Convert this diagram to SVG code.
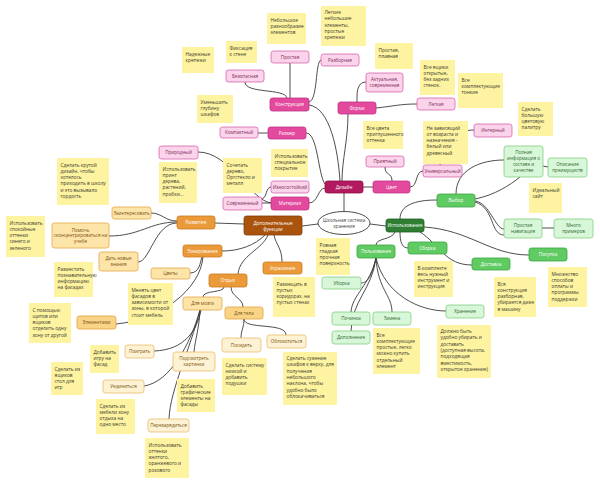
<svg xmlns="http://www.w3.org/2000/svg" width="600" height="486" viewBox="0 0 600 486">
<style>
text{font-family:"Open Sans","Noto Sans","DejaVu Sans",sans-serif;font-size:4.6px}
.t{text-anchor:middle}
#connectors path{fill:none;stroke:#3a3a3a;stroke-width:0.9}
.n rect{stroke-width:0.8}
.dp rect{fill:#b2195e;stroke:#8c0f48}
.mp rect{fill:#e3499d;stroke:#c03386}
.lp rect{fill:#fbd3ea;stroke:#d565a8}
.do rect{fill:#a9530c;stroke:#83400a}
.mo rect{fill:#eb9a3a;stroke:#cc7b20}
.lo rect{fill:#fde4a8;stroke:#e2a846}
.lo2 rect{fill:#f9d486;stroke:#e0a23c}
.co rect{fill:#fdf2d4;stroke:#e8bb6a}
.dg rect{fill:#2f7e34;stroke:#1f6124}
.mg rect{fill:#5fcb62;stroke:#3ea543}
.lg rect{fill:#d8f6d8;stroke:#80cf82}
.dp text,.mp text,.do text,.mo text,.dg text,.mg text{fill:#ffffff}
.lp text{fill:#7d2b5b}
.lo text,.lo2 text,.co text{fill:#7a5212}
.lg text{fill:#2e6b31}
.nt rect{fill:#fdf3a1}
.nt text{fill:#3c3a2c;font-size:4.8px}
</style>

<g id="connectors">
<path d="M344,193 L344,212"/>
<path d="M363,187 L373,187"/>
<path d="M385,167 C385,176 392,172 392,181"/>
<path d="M410,187 C418,187 415,171 423,171"/>
<path d="M440,166 C440,140 458,130 474,130"/>
<path d="M348,114 C348,140 342,160 342,181"/>
<path d="M366,82 C356,82 357,95 357,102"/>
<path d="M376,108 C395,106 400,104 417,104"/>
<path d="M309,105 C330,108 338,150 340,181"/>
<path d="M306,133 C318,133 318,175 325,184"/>
<path d="M309,203 C318,203 318,188 325,188"/>
<path d="M290,63 L290,98"/>
<path d="M245,82 C245,94 285,88 287,98"/>
<path d="M309,102 C318,100 315,62 321,60"/>
<path d="M258,133 L268,133"/>
<path d="M262,203 L271,203"/>
<path d="M262,199 C268,196 265,188 271,187"/>
<path d="M198,152 C230,152 250,200 271,203"/>
<path d="M302,226 L318,224"/>
<path d="M370,224 L386,226"/>
<path d="M215,223 L244,224"/>
<path d="M177,221 C165,221 162,213 151,213"/>
<path d="M177,222 C150,222 140,236 109,236"/>
<path d="M177,223 C155,223 150,262 138,262"/>
<path d="M222,251 C240,251 255,245 265,235"/>
<path d="M238,274 C240,255 262,250 268,235"/>
<path d="M282,262 C282,248 276,245 274,235"/>
<path d="M190,273 C200,273 200,262 202,257"/>
<path d="M116,324 C160,320 200,290 203,257"/>
<path d="M224,287 C224,293 203,290 203,297"/>
<path d="M231,287 C231,297 243,298 243,307"/>
<path d="M244,319 C244,328 241,330 241,338"/>
<path d="M244,319 C244,330 286,322 286,335"/>
<path d="M154,351 C185,350 197,330 201,310"/>
<path d="M200,310 C199,330 195,340 194,352"/>
<path d="M144,386 C170,382 190,345 200,310"/>
<path d="M169,419 C170,390 190,350 200,310"/>
<path d="M400,219 C400,205 415,200 437,200"/>
<path d="M456,194 C456,170 480,160 504,160"/>
<path d="M475,199 C495,195 510,185 520,177"/>
<path d="M543,166 L548,167"/>
<path d="M475,201 C490,203 495,229 504,229"/>
<path d="M475,202 C495,208 490,235 504,235"/>
<path d="M542,228 L554,228"/>
<path d="M424,227 C470,230 490,255 529,255"/>
<path d="M420,232 C440,245 445,265 472,265"/>
<path d="M400,232 C400,242 402,248 408,248"/>
<path d="M395,232 C392,240 376,238 376,245"/>
<path d="M376,258 C372,275 368,283 361,283"/>
<path d="M376,258 C370,285 352,295 351,312"/>
<path d="M376,258 C372,290 352,300 351,331"/>
<path d="M376,258 C378,290 392,295 392,312"/>
<path d="M376,258 C385,295 420,311 446,311"/>
</g>

<g id="root">
<ellipse cx="344" cy="223" rx="26" ry="11.5" fill="#ffffff" stroke="#3a3a3a" stroke-width="0.9"/>
<text class="t" x="344" y="221.6" fill="#444">Школьная система</text>
<text class="t" x="344" y="227.6" fill="#444">хранения</text>
</g>

<g id="dizain" class="n dp"><rect x="325" y="181" width="38" height="12" rx="2.5"/><text class="t" x="344" y="188.6">Дизайн</text></g>
<g id="cvet" class="n mp"><rect x="373" y="181" width="37" height="12" rx="2.5"/><text class="t" x="391.5" y="188.6">Цвет</text></g>
<g id="priyatny" class="n lp"><rect x="366" y="156" width="38" height="11" rx="2.5"/><text class="t" x="385" y="163.1">Приятный</text></g>
<g id="universal" class="n lp"><rect x="423" y="165" width="39" height="12" rx="2.5"/><text class="t" x="442.5" y="172.6">Универсальный</text></g>
<g id="interny" class="n lp"><rect x="474" y="124" width="38" height="13" rx="2.5"/><text class="t" x="493" y="132.1">Интерный</text></g>
<g id="forma" class="n mp"><rect x="338" y="102" width="38" height="12" rx="2.5"/><text class="t" x="357" y="109.6">Форма</text></g>
<g id="aktual" class="n lp"><rect x="366" y="73" width="37" height="19" rx="2.5"/><text class="t" x="384.5" y="81.1">Актуальная,</text><text class="t" x="384.5" y="87.1">современная</text></g>
<g id="legkaya" class="n lp"><rect x="417" y="98" width="38" height="12" rx="2.5"/><text class="t" x="436" y="105.6">Легкая</text></g>
<g id="konstrukciya" class="n mp"><rect x="270" y="98" width="39" height="13" rx="2.5"/><text class="t" x="289.5" y="106.1">Конструкция</text></g>
<g id="prostaya" class="n lp"><rect x="271" y="51" width="38" height="12" rx="2.5"/><text class="t" x="290" y="58.6">Простая</text></g>
<g id="bezopasnaya" class="n lp"><rect x="226" y="70" width="38" height="12" rx="2.5"/><text class="t" x="245" y="77.6">Безопасная</text></g>
<g id="razbornaya" class="n lp"><rect x="321" y="54" width="38" height="12" rx="2.5"/><text class="t" x="340" y="61.6">Разборная</text></g>
<g id="razmer" class="n mp"><rect x="268" y="127" width="38" height="12" rx="2.5"/><text class="t" x="287" y="134.6">Размер</text></g>
<g id="kompaktny" class="n lp"><rect x="220" y="127" width="38" height="11" rx="2.5"/><text class="t" x="239" y="134.1">Компактный</text></g>
<g id="iznosostoiky" class="n lp"><rect x="271" y="181" width="38" height="12" rx="2.5"/><text class="t" x="290" y="188.6">Износостойкий</text></g>
<g id="material" class="n mp"><rect x="271" y="197" width="38" height="13" rx="2.5"/><text class="t" x="290" y="205.1">Материал</text></g>
<g id="sovremenny" class="n lp"><rect x="223" y="197" width="39" height="13" rx="2.5"/><text class="t" x="242.5" y="205.1">Современный</text></g>
<g id="prirodny" class="n lp"><rect x="159" y="146" width="39" height="13" rx="2.5"/><text class="t" x="178.5" y="154.1">Природный</text></g>

<g id="dop" class="n do"><rect x="244" y="216" width="58" height="19" rx="2.5"/><text class="t" x="273" y="224.6">Дополнительные</text><text class="t" x="273" y="231">функции</text></g>
<g id="razvitie" class="n mo"><rect x="177" y="216" width="38" height="13" rx="2.5"/><text class="t" x="196" y="224.1">Развитие</text></g>
<g id="zainteresovat" class="n lo"><rect x="112" y="207" width="39" height="12" rx="2.5"/><text class="t" x="131.5" y="214.6">Заинтересовать</text></g>
<g id="pomoch" class="n lo"><rect x="52" y="223" width="57" height="25" rx="2.5"/><text class="t" x="80.5" y="231.6">Помочь</text><text class="t" x="80.5" y="237.4">сконцентрироваться на</text><text class="t" x="80.5" y="243.2">учебе</text></g>
<g id="dat" class="n lo"><rect x="99" y="252" width="39" height="19" rx="2.5"/><text class="t" x="118.5" y="259.9">Дать новые</text><text class="t" x="118.5" y="265.9">знания</text></g>
<g id="zonirovanie" class="n mo"><rect x="183" y="245" width="39" height="12" rx="2.5"/><text class="t" x="202.5" y="252.6">Зонирование</text></g>
<g id="cvety" class="n lo"><rect x="151" y="268" width="39" height="11" rx="2.5"/><text class="t" x="170.5" y="275.1">Цветы</text></g>
<g id="elementami" class="n lo2"><rect x="77" y="316" width="39" height="13" rx="2.5"/><text class="t" x="96.5" y="324.1">Элементами</text></g>
<g id="otdyh" class="n mo"><rect x="209" y="274" width="38" height="13" rx="2.5"/><text class="t" x="228" y="282.1">Отдых</text></g>
<g id="ukrashenie" class="n mo"><rect x="263" y="262" width="39" height="12" rx="2.5"/><text class="t" x="282.5" y="269.6">Украшение</text></g>
<g id="dlya-mozga" class="n lo"><rect x="183" y="297" width="39" height="13" rx="2.5"/><text class="t" x="202.5" y="305.1">Для мозга</text></g>
<g id="dlya-tela" class="n lo2"><rect x="225" y="307" width="38" height="12" rx="2.5"/><text class="t" x="244" y="314.6">Для тела</text></g>
<g id="poigrat" class="n co"><rect x="125" y="345" width="29" height="13" rx="2.5"/><text class="t" x="139.5" y="353.1">Поиграть</text></g>
<g id="podsmotret" class="n co"><rect x="173" y="352" width="42" height="19" rx="2.5"/><text class="t" x="194" y="360.1">Подсмотреть</text><text class="t" x="194" y="366.1">картинки</text></g>
<g id="uedinitsya" class="n co"><rect x="103" y="380" width="41" height="13" rx="2.5"/><text class="t" x="123.5" y="388.1">Уединиться</text></g>
<g id="perezaryaditsya" class="n co"><rect x="148" y="419" width="41" height="13" rx="2.5"/><text class="t" x="168.5" y="427.1">Перезарядиться</text></g>
<g id="posidet" class="n co"><rect x="222" y="338" width="39" height="14" rx="2.5"/><text class="t" x="241.5" y="346.6">Посидеть</text></g>
<g id="oblokotitsya" class="n co"><rect x="267" y="335" width="39" height="13" rx="2.5"/><text class="t" x="286.5" y="343.1">Облокотиться</text></g>

<g id="ispolzovanie" class="n dg"><rect x="386" y="219" width="38" height="13" rx="2.5"/><text class="t" x="405" y="227.1">Использование</text></g>
<g id="vybor" class="n mg"><rect x="437" y="194" width="38" height="13" rx="2.5"/><text class="t" x="456" y="202.1">Выбор</text></g>
<g id="polnaya" class="n lg"><rect x="504" y="146" width="39" height="31" rx="2.5"/><text class="t" x="523.5" y="154.4">Полная</text><text class="t" x="523.5" y="160.4">информация о</text><text class="t" x="523.5" y="166.4">составе и</text><text class="t" x="523.5" y="172.4">качестве</text></g>
<g id="opisanie" class="n lg"><rect x="548" y="158" width="39" height="19" rx="2.5"/><text class="t" x="567.5" y="166.1">Описание</text><text class="t" x="567.5" y="172.1">преимуществ</text></g>
<g id="prostaya-navigaciya" class="n lg"><rect x="504" y="219" width="38" height="19" rx="2.5"/><text class="t" x="523" y="227.1">Простая</text><text class="t" x="523" y="233.1">навигация</text></g>
<g id="mnogo" class="n lg"><rect x="554" y="219" width="39" height="19" rx="2.5"/><text class="t" x="573.5" y="227.1">Много</text><text class="t" x="573.5" y="233.1">примеров</text></g>
<g id="pokupka" class="n mg"><rect x="529" y="248" width="38" height="13" rx="2.5"/><text class="t" x="548" y="256.1">Покупка</text></g>
<g id="dostavka" class="n mg"><rect x="472" y="258" width="38" height="12" rx="2.5"/><text class="t" x="491" y="265.6">Доставка</text></g>
<g id="sborka" class="n mg"><rect x="408" y="242" width="39" height="12" rx="2.5"/><text class="t" x="427.5" y="249.6">Сборка</text></g>
<g id="polzovanie" class="n mg"><rect x="357" y="245" width="38" height="13" rx="2.5"/><text class="t" x="376" y="253.1">Пользование</text></g>
<g id="uborka" class="n lg"><rect x="322" y="277" width="39" height="12" rx="2.5"/><text class="t" x="341.5" y="284.6">Уборка</text></g>
<g id="pochinka" class="n lg"><rect x="332" y="312" width="38" height="13" rx="2.5"/><text class="t" x="351" y="320.1">Починка</text></g>
<g id="zamena" class="n lg"><rect x="373" y="312" width="38" height="13" rx="2.5"/><text class="t" x="392" y="320.1">Замена</text></g>
<g id="dopolnenie" class="n lg"><rect x="332" y="331" width="38" height="13" rx="2.5"/><text class="t" x="351" y="339.1">Дополнение</text></g>
<g id="hranenie" class="n lg"><rect x="446" y="305" width="38" height="13" rx="2.5"/><text class="t" x="465" y="313.1">Хранение</text></g>

<g id="notes">
<g class="nt"><rect x="182" y="47" width="32" height="26"/><text x="185.5" y="55.5">Надежные<tspan x="185.5" dy="6.3">крепежи</tspan></text></g>
<g class="nt"><rect x="226" y="41" width="31" height="22"/><text x="229.5" y="49.5">Фиксация<tspan x="229.5" dy="6.3">к стене</tspan></text></g>
<g class="nt"><rect x="267" y="13" width="39" height="31"/><text x="270.5" y="21.5">Небольшое<tspan x="270.5" dy="6.3">разнообразие</tspan><tspan x="270.5" dy="6.3">элементов</tspan></text></g>
<g class="nt"><rect x="321" y="6" width="45" height="40"/><text x="324.5" y="14">Легкие<tspan x="324.5" dy="6.3">небольшие</tspan><tspan x="324.5" dy="6.3">элементы,</tspan><tspan x="324.5" dy="6.3">простые</tspan><tspan x="324.5" dy="6.3">крепежи</tspan></text></g>
<g class="nt"><rect x="375" y="43" width="38" height="26"/><text x="378.5" y="51.5">Простая,<tspan x="378.5" dy="6.3">плавная</tspan></text></g>
<g class="nt"><rect x="420" y="60" width="35" height="35"/><text x="423.5" y="68.5">Все ящики<tspan x="423.5" dy="6.3">открытые,</tspan><tspan x="423.5" dy="6.3">без задних</tspan><tspan x="423.5" dy="6.3">стенок.</tspan></text></g>
<g class="nt"><rect x="458" y="73" width="45" height="35"/><text x="461.5" y="81.5">Все<tspan x="461.5" dy="6.3">комплектующие</tspan><tspan x="461.5" dy="6.3">тонкие</tspan></text></g>
<g class="nt"><rect x="197" y="95" width="36" height="28"/><text x="200.5" y="103.5">Уменьшить<tspan x="200.5" dy="6.3">глубину</tspan><tspan x="200.5" dy="6.3">шкафов</tspan></text></g>
<g class="nt"><rect x="363" y="121" width="40" height="28"/><text x="366.5" y="129.5">Все цвета<tspan x="366.5" dy="6.3">приглушенного</tspan><tspan x="366.5" dy="6.3">оттенка</tspan></text></g>
<g class="nt"><rect x="423" y="121" width="45" height="43"/><text x="426.5" y="129.5">Не зависящий<tspan x="426.5" dy="6.3">от возраста и</tspan><tspan x="426.5" dy="6.3">назначения -</tspan><tspan x="426.5" dy="6.3">белый или</tspan><tspan x="426.5" dy="6.3">древесный</tspan></text></g>
<g class="nt"><rect x="518" y="102" width="35" height="34"/><text x="521.5" y="110.5">Сделать<tspan x="521.5" dy="6.3">большую</tspan><tspan x="521.5" dy="6.3">цветовую</tspan><tspan x="521.5" dy="6.3">палитру</tspan></text></g>
<g class="nt"><rect x="271" y="149" width="37" height="28"/><text x="274.5" y="157.5">Использовать<tspan x="274.5" dy="6.3">специальное</tspan><tspan x="274.5" dy="6.3">покрытие</tspan></text></g>
<g class="nt"><rect x="223" y="158" width="39" height="35"/><text x="226.5" y="166.5">Сочетать<tspan x="226.5" dy="6.3">дерево,</tspan><tspan x="226.5" dy="6.3">Оргстекло и</tspan><tspan x="226.5" dy="6.3">металл</tspan></text></g>
<g class="nt"><rect x="159" y="162" width="38" height="41"/><text x="162.5" y="170.5">Использовать<tspan x="162.5" dy="6.3">принт</tspan><tspan x="162.5" dy="6.3">дерева,</tspan><tspan x="162.5" dy="6.3">растений,</tspan><tspan x="162.5" dy="6.3">пробки...</tspan></text></g>
<g class="nt"><rect x="57" y="158" width="52" height="47"/><text x="60.5" y="166.5">Сделать крутой<tspan x="60.5" dy="6.3">дизайн, чтобы</tspan><tspan x="60.5" dy="6.3">хотелось</tspan><tspan x="60.5" dy="6.3">приходить в школу</tspan><tspan x="60.5" dy="6.3">и это вызывало</tspan><tspan x="60.5" dy="6.3">гордость</tspan></text></g>
<g class="nt"><rect x="6" y="216" width="39" height="41"/><text x="9.5" y="224.5">Использовать<tspan x="9.5" dy="6.3">спокойные</tspan><tspan x="9.5" dy="6.3">оттенки</tspan><tspan x="9.5" dy="6.3">синего и</tspan><tspan x="9.5" dy="6.3">зеленого</tspan></text></g>
<g class="nt"><rect x="54" y="262" width="39" height="35"/><text x="57.5" y="270.5">Разместить<tspan x="57.5" dy="6.3">познавательную</tspan><tspan x="57.5" dy="6.3">информацию</tspan><tspan x="57.5" dy="6.3">на фасадах</tspan></text></g>
<g class="nt"><rect x="128" y="283" width="45" height="42"/><text x="131.5" y="291.5">Менять цвет<tspan x="131.5" dy="6.3">фасадов в</tspan><tspan x="131.5" dy="6.3">зависимости от</tspan><tspan x="131.5" dy="6.3">зоны, в которой</tspan><tspan x="131.5" dy="6.3">стоит мебель</tspan></text></g>
<g class="nt"><rect x="29" y="303" width="42" height="40"/><text x="32.5" y="311.5">С помощью<tspan x="32.5" dy="6.3">щитов или</tspan><tspan x="32.5" dy="6.3">ящиков</tspan><tspan x="32.5" dy="6.3">отделить одну</tspan><tspan x="32.5" dy="6.3">зону от другой</tspan></text></g>
<g class="nt"><rect x="273" y="277" width="42" height="40"/><text x="276.5" y="285.5">Размещать в<tspan x="276.5" dy="6.3">пустых</tspan><tspan x="276.5" dy="6.3">коридорах, на</tspan><tspan x="276.5" dy="6.3">пустых стенах</tspan></text></g>
<g class="nt"><rect x="90" y="345" width="29" height="28"/><text x="93.5" y="353.5">Добавить<tspan x="93.5" dy="6.3">игру на</tspan><tspan x="93.5" dy="6.3">фасад</tspan></text></g>
<g class="nt"><rect x="51" y="362" width="32" height="33"/><text x="54.5" y="370.5">Сделать из<tspan x="54.5" dy="6.3">ящиков</tspan><tspan x="54.5" dy="6.3">стол для</tspan><tspan x="54.5" dy="6.3">игр</tspan></text></g>
<g class="nt"><rect x="96" y="399" width="39" height="35"/><text x="99.5" y="407.5">Сделать из<tspan x="99.5" dy="6.3">мебели зону</tspan><tspan x="99.5" dy="6.3">отдыха на</tspan><tspan x="99.5" dy="6.3">одно место</tspan></text></g>
<g class="nt"><rect x="145" y="438" width="44" height="40"/><text x="148.5" y="446.5">Использовать<tspan x="148.5" dy="6.3">оттенки</tspan><tspan x="148.5" dy="6.3">желтого,</tspan><tspan x="148.5" dy="6.3">оранжевого и</tspan><tspan x="148.5" dy="6.3">розового</tspan></text></g>
<g class="nt"><rect x="177" y="379" width="38" height="33"/><text x="180.5" y="387.5">Добавить<tspan x="180.5" dy="6.3">графические</tspan><tspan x="180.5" dy="6.3">элементы на</tspan><tspan x="180.5" dy="6.3">фасады</tspan></text></g>
<g class="nt"><rect x="222" y="358" width="45" height="37"/><text x="225.5" y="366.5">Сделать систему<tspan x="225.5" dy="6.3">низкой и</tspan><tspan x="225.5" dy="6.3">добавить</tspan><tspan x="225.5" dy="6.3">подушки</tspan></text></g>
<g class="nt"><rect x="283" y="352" width="54" height="53"/><text x="286.5" y="360">Сделать сужение<tspan x="286.5" dy="6.3">шкафов к верху, для</tspan><tspan x="286.5" dy="6.3">получения</tspan><tspan x="286.5" dy="6.3">небольшого</tspan><tspan x="286.5" dy="6.3">наклона, чтобы</tspan><tspan x="286.5" dy="6.3">удобно было</tspan><tspan x="286.5" dy="6.3">облокачиваться</tspan></text></g>
<g class="nt"><rect x="316" y="238" width="34" height="37"/><text x="319.5" y="246.5">Ровная<tspan x="319.5" dy="6.3">гладкая</tspan><tspan x="319.5" dy="6.3">прочная</tspan><tspan x="319.5" dy="6.3">поверхность</tspan></text></g>
<g class="nt"><rect x="529" y="183" width="33" height="30"/><text x="532.5" y="191.5">Идеальный<tspan x="532.5" dy="6.3">сайт</tspan></text></g>
<g class="nt"><rect x="414" y="261" width="39" height="36"/><text x="417.5" y="269.5">В комплекте<tspan x="417.5" dy="6.3">весь нужный</tspan><tspan x="417.5" dy="6.3">инструмент и</tspan><tspan x="417.5" dy="6.3">инструкция</tspan></text></g>
<g class="nt"><rect x="494" y="277" width="42" height="40"/><text x="497.5" y="285.5">Вся<tspan x="497.5" dy="6.3">конструкция</tspan><tspan x="497.5" dy="6.3">разборная,</tspan><tspan x="497.5" dy="6.3">убирается даже</tspan><tspan x="497.5" dy="6.3">в машину</tspan></text></g>
<g class="nt"><rect x="548" y="267" width="39" height="40"/><text x="551.5" y="275.5">Множество<tspan x="551.5" dy="6.3">способов</tspan><tspan x="551.5" dy="6.3">оплаты и</tspan><tspan x="551.5" dy="6.3">программы</tspan><tspan x="551.5" dy="6.3">поддержки</tspan></text></g>
<g class="nt"><rect x="373" y="328" width="47" height="46"/><text x="376.5" y="336.5">Все<tspan x="376.5" dy="6.3">комплектующие</tspan><tspan x="376.5" dy="6.3">простые, легко</tspan><tspan x="376.5" dy="6.3">можно купить</tspan><tspan x="376.5" dy="6.3">отдельный</tspan><tspan x="376.5" dy="6.3">элемент</tspan></text></g>
<g class="nt"><rect x="437" y="325" width="54" height="53"/><text x="440.5" y="333">Должно быть<tspan x="440.5" dy="6.3">удобно убирать и</tspan><tspan x="440.5" dy="6.3">доставать</tspan><tspan x="440.5" dy="6.3">(доступная высота,</tspan><tspan x="440.5" dy="6.3">подходящая</tspan><tspan x="440.5" dy="6.3">вместимость,</tspan><tspan x="440.5" dy="6.3">открытое хранение)</tspan></text></g>
</g>
</svg>
